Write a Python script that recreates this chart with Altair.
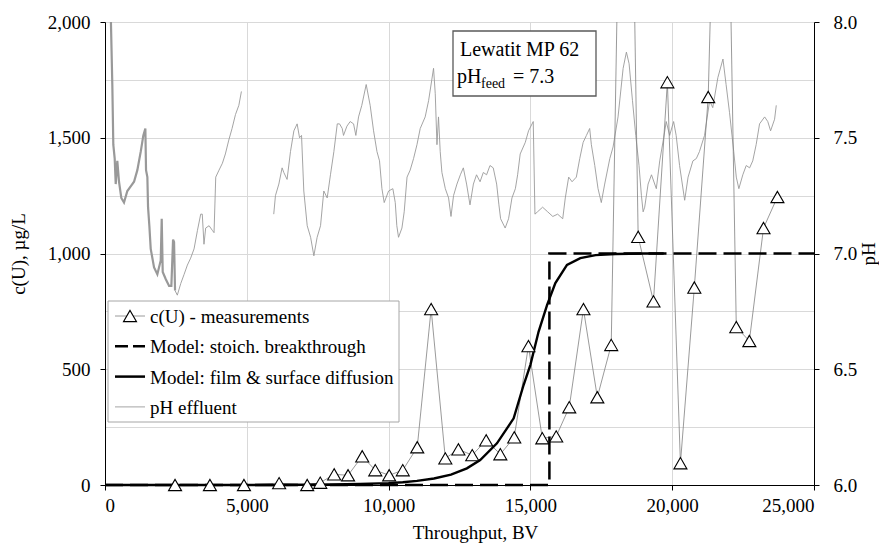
import altair as alt
import pandas as pd

# ---------------- data ----------------
MEAS = "c(U) - measurements"
STOICH = "Model: stoich. breakthrough"
FILM = "Model: film & surface diffusion"
PH = "pH effluent"
series_names = [MEAS, STOICH, FILM, PH]

meas_bv = [2470, 3700, 4900, 6140, 7130, 7590, 8080, 8570, 9070, 9530, 10020, 10500,
           11010, 11500, 12000, 12460, 12950, 13440, 13940, 14430, 14930, 15420, 15910,
           16370, 16870, 17360, 17850, 18380, 18800, 19340, 19830, 20290, 20780, 21270,
           21780, 22260, 22720, 23220, 23710]
meas_cu = [0, 0, 0, 8, 0, 10, 46, 42, 124, 64, 42, 64,
           163, 760, 115, 154, 129, 193, 133, 206, 600, 202, 210,
           336, 760, 379, 605, 4330, 1072, 793, 1740, 94, 853, 1676,
           4100, 682, 622, 1110, 1244]

stoich_bv = [0, 15670, 15670, 25000]
stoich_cu = [0, 0, 1000, 1000]

film_bv = [0, 6000, 8000, 9000, 10000, 10500, 11000, 11600, 12200, 12760, 13230, 13820,
           14410, 14760, 15000, 15290, 15590, 15880, 16290, 16760, 17300, 18000, 19000, 19700]
film_cu = [0, 0, 2, 4, 8, 12, 18, 28, 45, 72, 108, 180,
           288, 432, 519, 663, 778, 872, 951, 980, 993, 998, 1000, 1000]

# pH effluent: dense noisy start, then two thin stretches (gap ~4800-5950 BV)
ph_dense_bv = [200, 258, 293, 342, 378, 434, 494, 575, 670, 787, 906, 1024, 1140, 1260,
               1352, 1423, 1447, 1494, 1518, 1564, 1612, 1730, 1846, 1965, 2000, 2035,
               2140, 2260, 2340, 2400, 2435, 2470]
ph_dense = [8.05, 7.73, 7.47, 7.41, 7.30, 7.40, 7.31, 7.24, 7.22, 7.27, 7.29, 7.31, 7.36, 7.44,
            7.51, 7.54, 7.36, 7.33, 7.20, 7.12, 7.02, 6.94, 6.91, 6.97, 7.15, 6.92,
            6.89, 6.86, 6.86, 7.06, 7.05, 6.84]

ph_a_bv = [2470, 2550, 2670, 2790, 2905, 3020, 3140, 3260, 3375, 3430, 3490, 3550, 3670,
           3785, 3845, 3905, 4020, 4140, 4245, 4365, 4480, 4600, 4720, 4810]
ph_a = [6.84, 6.82, 6.87, 6.91, 6.95, 6.98, 7.02, 7.10, 7.17, 7.17, 7.04, 7.11, 7.12,
        7.10, 7.09, 7.33, 7.36, 7.39, 7.43, 7.49, 7.54, 7.60, 7.64, 7.70]

ph_b_bv = [5950, 6010, 6130, 6245, 6305, 6420, 6540, 6660, 6775, 6860, 6930, 7010, 7130,
           7250, 7365, 7480, 7600, 7715, 7835, 7950, 8070, 8190, 8270, 8365, 8410, 8530,
           8645, 8765, 8845, 8940, 9055, 9210, 9350, 9470, 9590, 9680, 9765, 9845, 10000,
           10150, 10235, 10290, 10350, 10470, 10550, 10650, 10760, 10880, 11000, 11115,
           11290, 11410, 11585, 11645, 11705, 11760, 11820, 11880, 12000, 12115, 12200,
           12290, 12410, 12530, 12635, 12750, 12870, 12990, 13100, 13225, 13340, 13455,
           13575, 13690, 13810, 13890, 13950, 14110, 14230, 14350, 14470, 14550, 14640,
           14820, 14935, 15100, 15160, 15250, 15430, 15610, 15790, 15960, 16140, 16230,
           16350, 16470, 16620, 16740, 16860, 16975, 17090, 17150, 17270, 17385, 17500,
           17620, 17800, 17915, 18090, 18270, 18385, 18480, 18600, 18715, 18830, 18915,
           18975, 19030, 19150, 19270, 19440, 19560, 19700, 19790, 19910, 20050, 20140,
           20260, 20440, 20560, 20730, 20850, 20960, 21140, 21320, 21430, 21610, 21790,
           21900, 22020, 22170, 22260, 22350, 22490, 22610, 22730, 22840, 22960, 23080,
           23260, 23370, 23470, 23610, 23670]
ph_b = [7.17, 7.25, 7.30, 7.37, 7.35, 7.32, 7.44, 7.53, 7.56, 7.50, 7.51, 7.27, 7.12,
        7.07, 6.99, 7.07, 7.12, 7.27, 7.24, 7.34, 7.44, 7.56, 7.56, 7.54, 7.51, 7.55,
        7.57, 7.56, 7.51, 7.59, 7.64, 7.73, 7.64, 7.53, 7.44, 7.40, 7.28, 7.22, 7.27,
        7.28, 7.22, 7.12, 7.07, 7.11, 7.18, 7.33, 7.36, 7.41, 7.47, 7.54,
        7.59, 7.66, 7.80, 7.69, 7.47, 7.59, 7.44, 7.35, 7.28, 7.24, 7.16,
        7.25, 7.30, 7.34, 7.37, 7.30, 7.21, 7.30, 7.34, 7.31, 7.35, 7.34,
        7.38, 7.37, 7.30, 7.21, 7.15, 7.11, 7.15, 7.24, 7.28, 7.34, 7.43,
        7.48, 7.53, 7.57, 7.17, 7.18, 7.20, 7.18, 7.16, 7.17, 7.15, 7.24,
        7.33, 7.31, 7.33, 7.41, 7.48, 7.51, 7.54, 7.47, 7.38, 7.28, 7.22,
        7.30, 7.41, 7.46, 7.59, 7.80, 7.87, 7.82, 7.66, 7.51, 7.38, 7.25,
        7.18, 7.20, 7.30, 7.34, 7.28, 7.40, 7.50, 7.57, 7.51, 7.57, 7.51,
        7.38, 7.23, 7.33, 7.40, 7.41, 7.44, 7.51, 7.66, 7.63, 7.76, 7.84,
        7.73, 7.61, 7.44, 7.33, 7.28, 7.34, 7.38, 7.37, 7.40, 7.47, 7.56,
        7.59, 7.57, 7.53, 7.58, 7.64]

x_ticks = [0, 5000, 10000, 15000, 20000, 25000]
cu_grid = [0, 250, 500, 750, 1000, 1250, 1500, 1750, 2000]
ph_ticks = [6.0, 6.5, 7.0, 7.5, 8.0]

box_title = "Lewatit MP 62"
box_ph, box_sub, box_val = "pH", "feed", "= 7.3"

# ---------------- tables ----------------
meas_df = pd.DataFrame({"bv": meas_bv, "cu": meas_cu})
stoich_df = pd.DataFrame({"bv": stoich_bv, "cu": stoich_cu})
film_df = pd.DataFrame({"bv": film_bv, "cu": film_cu})
ph_dense_df = pd.DataFrame({"bv": ph_dense_bv, "ph": ph_dense})
ph_thin_df = pd.concat([
    pd.DataFrame({"bv": ph_a_bv, "ph": ph_a, "part": "a"}),
    pd.DataFrame({"bv": ph_b_bv, "ph": ph_b, "part": "b"}),
])

FONT = "Liberation Serif, 'Times New Roman', DejaVu Serif, serif"
W, H = 709, 463
MEAS_GREY = "#808080"
PH_GREY = "#9a9a9a"

x_enc = alt.X("bv:Q", scale=alt.Scale(domain=[0, 25000], nice=False),
              axis=alt.Axis(values=x_ticks, format=",d", grid=True, title="Throughput, BV",
                            tickSize=5, labelPadding=6, titleX=370, titleY=53,
                            titleBaseline="alphabetic"))

cu_scale = alt.Scale(domain=[0, 2000], nice=False)
cu_axis = alt.Axis(values=cu_grid, grid=True, orient="left",
                   labelExpr="datum.value % 500 === 0 ? format(datum.value, ',d') : ''",
                   tickOpacity={"condition": {"test": "datum.value % 500 !== 0", "value": 0}, "value": 1},
                   tickSize=5, labelPadding=10, title="c(U), µg/L",
                   titleAngle=270, titleX=-87, titleY=H / 2, titleAlign="center",
                   titleBaseline="middle")

ph_scale = alt.Scale(domain=[6, 8], nice=False, zero=False)
ph_axis = alt.Axis(values=ph_ticks, format=".1f", grid=False, orient="right",
                   tickSize=5, labelPadding=14, title="pH", titleAngle=270,
                   titleX=54, titleY=H / 2, titleAlign="center", titleBaseline="middle")

meas_line = alt.Chart(meas_df).mark_line(color=MEAS_GREY, strokeWidth=0.8, clip=True).encode(
    x=x_enc, y=alt.Y("cu:Q", scale=cu_scale, axis=cu_axis))
stoich_line = alt.Chart(stoich_df).mark_line(color="black", strokeWidth=2.5,
                                              strokeDash=[18, 7]).encode(
    x=x_enc, y=alt.Y("cu:Q", scale=cu_scale, axis=cu_axis))
film_line = alt.Chart(film_df).mark_line(color="black", strokeWidth=2.4).encode(
    x=x_enc, y=alt.Y("cu:Q", scale=cu_scale, axis=cu_axis))
meas_pts = alt.Chart(meas_df).transform_filter("datum.cu <= 2000").mark_point(
    shape="triangle-up", size=170, filled=True, fill="white", stroke="black",
    strokeWidth=1.1, opacity=1).encode(
    x=x_enc, y=alt.Y("cu:Q", scale=cu_scale, axis=cu_axis))

left = alt.layer(meas_line, stoich_line, film_line, meas_pts)

ph_dense_line = alt.Chart(ph_dense_df).mark_line(color="#999999", strokeWidth=2.2, clip=True).encode(
    x=x_enc, y=alt.Y("ph:Q", scale=ph_scale, axis=ph_axis))
ph_thin_line = alt.Chart(ph_thin_df).mark_line(color=PH_GREY, strokeWidth=0.9, clip=True).encode(
    x=x_enc, y=alt.Y("ph:Q", scale=ph_scale, axis=ph_axis), detail="part:N")
right = alt.layer(ph_dense_line, ph_thin_line)

# ---------------- legend (drawn as annotation) ----------------
dummy = pd.DataFrame({"k": [0]})
LG_X0, LG_X1, LG_Y0, LG_Y1 = 3, 294, 279, 400
ROW0, ROW_STEP = 294, 30.3
SYM_X0, SYM_X1, SYM_MID, LBL_X = 10, 40, 25, 45

legend_layers = [
    alt.Chart(dummy).mark_rect(fill="white", stroke="#a6a6a6", strokeWidth=1).encode(
        x=alt.value(LG_X0), x2=alt.value(LG_X1), y=alt.value(LG_Y0), y2=alt.value(LG_Y1))
]
sym_styles = [
    dict(color=MEAS_GREY, strokeWidth=0.8),
    dict(color="black", strokeWidth=2.5, strokeDash=[13, 5]),
    dict(color="black", strokeWidth=2.5),
    dict(color=PH_GREY, strokeWidth=0.9),
]
for i, name in enumerate(series_names):
    yy = ROW0 + ROW_STEP * i
    legend_layers.append(
        alt.Chart(dummy).mark_rule(**sym_styles[i]).encode(
            x=alt.value(SYM_X0), x2=alt.value(SYM_X1), y=alt.value(yy)))
    legend_layers.append(
        alt.Chart(pd.DataFrame({"t": [name]})).mark_text(
            font=FONT, fontSize=19, align="left", baseline="middle", color="black").encode(
            x=alt.value(LBL_X), y=alt.value(yy + 1), text="t:N"))
legend_layers.append(
    alt.Chart(dummy).mark_point(shape="triangle-up", size=170, filled=True, fill="white",
                                stroke="black", strokeWidth=1.1, opacity=1).encode(
        x=alt.value(SYM_MID), y=alt.value(ROW0)))

# ---------------- annotation box ----------------
box = alt.Chart(dummy).mark_rect(fill="white", stroke="#595959", strokeWidth=1.3).encode(
    x=alt.value(348), x2=alt.value(491), y=alt.value(9), y2=alt.value(74))
t1 = alt.Chart(pd.DataFrame({"t": [box_title]})).mark_text(
    font=FONT, fontSize=20, align="left", baseline="alphabetic", color="black").encode(
    x=alt.value(355), y=alt.value(34), text="t:N")
t2 = alt.Chart(pd.DataFrame({"t": [box_ph]})).mark_text(
    font=FONT, fontSize=20, align="left", baseline="alphabetic", color="black").encode(
    x=alt.value(352), y=alt.value(61), text="t:N")
t3 = alt.Chart(pd.DataFrame({"t": [box_sub]})).mark_text(
    font=FONT, fontSize=14, align="left", baseline="alphabetic", color="black").encode(
    x=alt.value(376), y=alt.value(66), text="t:N")
t4 = alt.Chart(pd.DataFrame({"t": [box_val]})).mark_text(
    font=FONT, fontSize=20, align="left", baseline="alphabetic", color="black").encode(
    x=alt.value(408), y=alt.value(61), text="t:N")

chart = alt.layer(right, left, *legend_layers, box, t1, t2, t3, t4).resolve_scale(
    y="independent"
).properties(
    width=W, height=H,
    autosize=alt.AutoSizeParams(type="none"),
    padding={"left": 97, "top": 14, "right": 65, "bottom": 58},
).configure_view(strokeWidth=0).configure_axis(
    labelFont=FONT, titleFont=FONT, labelFontSize=19, titleFontSize=19,
    titleFontWeight="normal", labelColor="black", titleColor="black",
    domainColor="black", domainWidth=1, tickColor="black", tickWidth=1,
    gridColor="#d9d9d9", gridWidth=1,
)

chart.save("out.html", embed_options={"renderer": "svg", "actions": False})
